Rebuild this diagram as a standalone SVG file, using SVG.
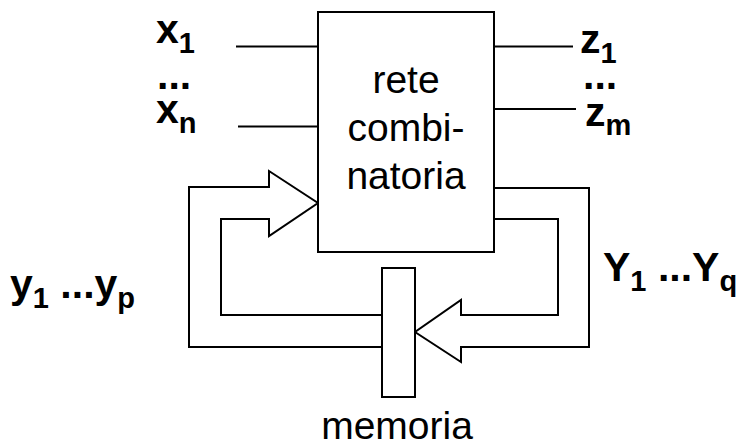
<svg xmlns="http://www.w3.org/2000/svg" width="745" height="447" viewBox="0 0 745 447">
<style>
.ln{fill:none;stroke:#000;stroke-width:2;stroke-linejoin:miter}
.box{fill:#fff;stroke:#000;stroke-width:2}
.t{font-family:"Liberation Sans",Arial,sans-serif;font-size:39px;fill:#000}
.b{font-family:"Liberation Sans",Arial,sans-serif;font-size:41px;font-weight:bold;fill:#000}
.s{font-size:29px}
</style>
<rect width="745" height="447" fill="#fff"/>
<g id="connectors">
<line class="ln" x1="236" y1="46.5" x2="318" y2="46.5"/>
<line class="ln" x1="238" y1="126.5" x2="318" y2="126.5"/>
<line class="ln" x1="494" y1="46.5" x2="573" y2="46.5"/>
<line class="ln" x1="494" y1="109" x2="576" y2="109"/>
<polyline class="ln" points="382,347 189,347 189,187 269,187 269,171 318,203 269,236 269,219 221,219 221,315 382,315"/>
<polyline class="ln" points="494,188 589,188 589,347 461,347 461,362 415,332 461,300 461,315 558,315 558,219 494,219"/>
</g>
<g id="rete">
<rect class="box" x="318" y="12" width="176" height="240"/>
<text class="t" x="406" y="93" text-anchor="middle">rete</text>
<text class="t" x="406" y="141" text-anchor="middle">combi-</text>
<text class="t" x="406" y="189" text-anchor="middle">natoria</text>
</g>
<g id="memoria">
<rect class="box" x="382" y="268" width="33" height="129"/>
<text class="t" x="397" y="439" text-anchor="middle">memoria</text>
</g>
<g id="labels">
<text class="b" x="156" y="43">x<tspan class="s" dy="10">1</tspan></text>
<text class="b" x="157" y="89">...</text>
<text class="b" x="156" y="123">x<tspan class="s" dy="10">n</tspan></text>
<text class="b" x="580" y="53">z<tspan class="s" dy="10">1</tspan></text>
<text class="b" x="583" y="89">...</text>
<text class="b" x="585" y="126">z<tspan class="s" dy="9">m</tspan></text>
<text class="b" x="603" y="281">Y<tspan class="s" dy="10">1</tspan><tspan dy="-10"> ...Y</tspan><tspan class="s" dy="10">q</tspan></text>
<text class="b" x="10" y="298">y<tspan class="s" dy="10">1</tspan><tspan dy="-10"> ...y</tspan><tspan class="s" dy="10">p</tspan></text>
</g>
</svg>
